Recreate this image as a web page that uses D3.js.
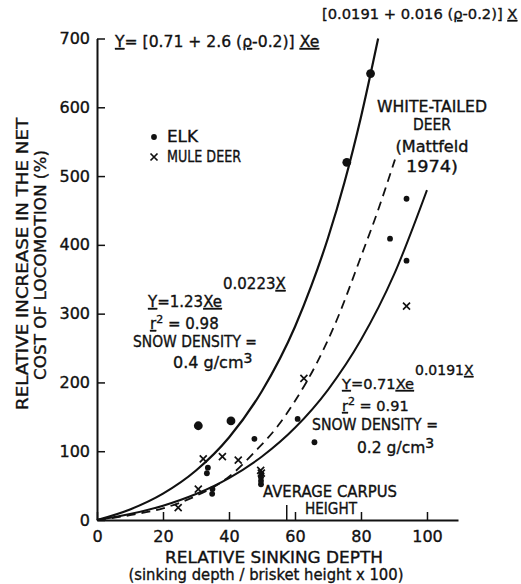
<!DOCTYPE html>
<html>
<head>
<meta charset="utf-8">
<script src="https://cdn.jsdelivr.net/npm/d3@7"></script>
<style>
  body { margin: 0; background: #fff; }
  svg text { font-family: "DejaVu Sans", sans-serif; fill: #111; stroke: #111; stroke-width: 0.35px; }
  .u { text-decoration: underline; }
</style>
</head>
<body>
<div id="chart"></div>
<script>
// values
var xTicks = [0, 20, 40, 60, 80, 100];
var yTicks = [0, 100, 200, 300, 400, 500, 600, 700];

// elk (dots) and mule deer (x), [relative sinking depth, % increase]
var elkPoints = [[47.7, 118], [60.8, 147], [65.9, 113], [88.8, 409], [93.8, 467], [93.8, 377],
  [33.3, 68], [33.6, 76], [34.9, 38], [35, 45], [49.7, 52], [49.7, 57], [49.7, 62], [49.8, 67]];
var elkPointsLarge = [[30.7, 137], [40.6, 144], [75.7, 520], [82.9, 649]];
var muleDeerPoints = [[24.6, 18], [30.7, 45], [32.2, 89], [38, 92], [42.8, 87], [49.6, 72],
  [49.8, 68], [62.7, 206], [93.8, 311]];

// fitted curves
var curveDense = [[0, 0], [10, 15.4], [20, 38.4], [30, 72], [40, 120], [50, 187.6], [60, 281],
  [65, 341], [70, 410], [75, 491], [80, 586], [85.2, 700]];          // 0.4 g/cm3
var curveLight = [[0, 0], [10, 8.6], [20, 20.8], [30, 37.8], [40, 61], [50, 92.3], [60, 134],
  [70, 189.3], [80, 261.9], [90, 356.6], [100, 479.7]];              // 0.2 g/cm3
var curveWhiteTailed = [[0, 0], [10, 7], [20, 17], [30, 35], [40, 63], [48, 100], [55, 138],
  [60, 173], [66.6, 228], [72.6, 290], [80, 383], [85, 448], [90.3, 524]];
var carpusHeight = 57.5;

var width = 521, height = 584;

var svg = d3.select("#chart").append("svg")
  .attr("width", width)
  .attr("height", height);

var x = d3.scaleLinear().domain([0, 109.4]).range([97, 458]);
var y = d3.scaleLinear().domain([0, 700]).range([520, 38.5]);

var xAxis = d3.axisBottom(x).tickValues(xTicks).tickSizeInner(-8).tickSizeOuter(0).tickPadding(11);
var yAxis = d3.axisLeft(y).tickValues(yTicks).tickSizeInner(-8).tickSizeOuter(0).tickPadding(7);

var gx = svg.append("g").attr("transform", "translate(0," + y(0) + ")").call(xAxis);
var gy = svg.append("g").attr("transform", "translate(" + x(0) + ",0)").call(yAxis);

[gx, gy].forEach(function (g) {
  g.select(".domain").attr("stroke", "#111").attr("stroke-width", 2);
  g.selectAll(".tick line").attr("stroke", "#111").attr("stroke-width", 1.5);
  g.selectAll(".tick text").attr("fill", "#111")
    .style("font-family", '"DejaVu Sans", sans-serif').style("font-size", "16px");
});

// average carpus height marker
svg.append("line")
  .attr("x1", x(carpusHeight)).attr("x2", x(carpusHeight))
  .attr("y1", y(0)).attr("y2", y(0) - 15)
  .attr("stroke", "#111").attr("stroke-width", 1.5);

var line = d3.line()
  .x(function (d) { return x(d[0]); })
  .y(function (d) { return y(d[1]); })
  .curve(d3.curveMonotoneX);

svg.append("path").datum(curveDense)
  .attr("d", line).attr("fill", "none").attr("stroke", "#111").attr("stroke-width", 2.2);
svg.append("path").datum(curveLight)
  .attr("d", line).attr("fill", "none").attr("stroke", "#111").attr("stroke-width", 2);
svg.append("path").datum(curveWhiteTailed)
  .attr("d", line).attr("fill", "none").attr("stroke", "#111").attr("stroke-width", 1.8)
  .attr("stroke-dasharray", "9,6");

// points
svg.append("g").selectAll("circle")
  .data(elkPoints).enter().append("circle")
  .attr("cx", function (d) { return x(d[0]); })
  .attr("cy", function (d) { return y(d[1]); })
  .attr("r", 2.9).attr("fill", "#111");

svg.append("g").selectAll("circle")
  .data(elkPointsLarge).enter().append("circle")
  .attr("cx", function (d) { return x(d[0]); })
  .attr("cy", function (d) { return y(d[1]); })
  .attr("r", 4.4).attr("fill", "#111");

var xMark = "M-3.5,-3.5L3.5,3.5M-3.5,3.5L3.5,-3.5";
svg.append("g").selectAll("path")
  .data(muleDeerPoints).enter().append("path")
  .attr("transform", function (d) { return "translate(" + x(d[0]) + "," + y(d[1]) + ")"; })
  .attr("d", xMark).attr("stroke", "#111").attr("stroke-width", 1.7).attr("fill", "none");

// legend
svg.append("circle").attr("cx", 154).attr("cy", 137).attr("r", 2.9).attr("fill", "#111");
svg.append("path").attr("transform", "translate(154,157)").attr("d", xMark)
  .attr("stroke", "#111").attr("stroke-width", 1.7);

// text helper: parts = [[string, cls, dy, size]]
function label(px, py, parts, size, len, anchor) {
  var t = svg.append("text")
    .attr("x", px).attr("y", py)
    .style("font-size", size + "px")
    .attr("text-anchor", anchor || "start");
  if (len) t.attr("textLength", len).attr("lengthAdjust", "spacingAndGlyphs");
  parts.forEach(function (p) {
    var s = t.append("tspan").text(p[0]);
    if (p[1]) s.attr("class", p[1]);
    if (p[2]) s.attr("dy", p[2]);
    if (p[3]) s.style("font-size", p[3] + "px");
  });
  return t;
}

label(167, 142, [["ELK"]], 15, 31);
label(167, 162, [["MULE DEER"]], 15, 74);

// general equation
label(115, 47, [["Y", "u"], ["= [0.71 + 2.6 ("], ["ρ", "u"], ["-0.2)] "], ["Xe", "u"]], 15.6);
label(322, 19, [["[0.0191 + 0.016 ("], ["ρ", "u"], ["-0.2)] "], ["X", "u"]], 14.7);

// 0.4 g/cm3 fit
label(148, 307, [["Y", "u"], ["=1.23"], ["Xe", "u"]], 15);
label(223, 289, [["0.0223"], ["X", "u"]], 15);
label(150, 329, [["r", "u"], ["2", null, -6, 11], [" = 0.98", null, 6]], 15);
label(133, 347, [["SNOW DENSITY ="]], 15, 124);
label(173, 368, [["0.4 g/cm"], ["3", null, -5, 14]], 16);

// 0.2 g/cm3 fit
label(342, 389, [["Y", "u"], ["=0.71"], ["Xe", "u"]], 14.6);
label(415, 375, [["0.0191"], ["X", "u"]], 14);
label(342, 411, [["r", "u"], ["2", null, -6, 11], [" = 0.91", null, 6]], 14.5);
label(312, 430, [["SNOW DENSITY ="]], 15, 126);
label(357, 453, [["0.2 g/cm"], ["3", null, -5, 14]], 15.5);

// white-tailed deer
label(432, 112, [["WHITE-TAILED"]], 15, 110, "middle");
label(432, 130, [["DEER"]], 15, 38, "middle");
label(432, 152, [["(Mattfeld"]], 15, 73, "middle");
label(432, 172, [["1974)"]], 15, 52, "middle");

// carpus
label(263, 497, [["AVERAGE CARPUS"]], 15, 134);
label(305, 514, [["HEIGHT"]], 15, 52);

// axis titles
label(274, 563, [["RELATIVE SINKING DEPTH"]], 15.5, 218, "middle");
label(266, 580, [["(sinking depth / brisket height x 100)"]], 15.5, 275, "middle");
label(0, 0, [["RELATIVE INCREASE IN THE NET"]], 15.5, 292, "middle")
  .attr("transform", "translate(27.5,264) rotate(-90)");
label(0, 0, [["COST OF LOCOMOTION (%)"]], 15.5, 230, "middle")
  .attr("transform", "translate(45.5,265) rotate(-90)");
</script>
</body>
</html>
